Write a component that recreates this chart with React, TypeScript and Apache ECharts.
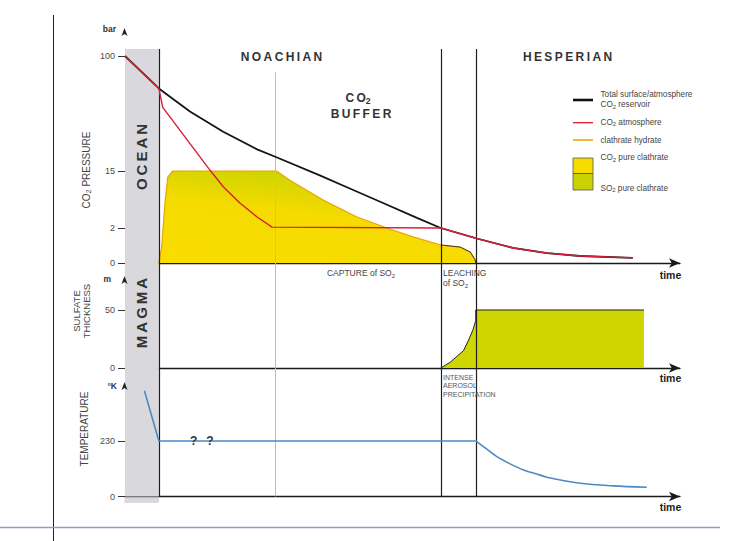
import React, { useEffect, useRef } from "react";
import * as echarts from "echarts";

// ---- time axis (arbitrary schematic units) ----
const TIME_MAX = 100;
const OCEAN_END = 6.1;
const BUFFER_START = 27;
const NOACHIAN_END = 56.9;
const HESPERIAN_START = 63.2;
const BUFFER_LINE_TOP_P = 88;

// ---- schematic (non-linear) CO2 pressure axis ----
const PRESSURE_TICKS = [0, 2, 15, 100];
const PRESSURE_TICK_AXIS = [0, 35, 92, 207];
const PRESSURE_AXIS_MAX = 214;

// ---- total surface/atmosphere CO2 reservoir (bar) ----
const TOTAL_T = [0, 6.1, 11.7, 17.7, 23.8, 27.4, 35.1, 40.5, 46.5, 52.6, 56.9];
const TOTAL_P = [100, 76, 59, 44, 31, 25, 14, 11, 7.7, 4.3, 2];

// ---- CO2 atmosphere (bar) ----
const ATM_T = [0, 6.1, 6.8, 15.3, 17.7, 20.7, 23.8, 26.5, 56.9, 63.4, 69.9, 76, 82, 91.5];
const ATM_P = [100, 76, 62, 15.7, 11.4, 7.7, 4.5, 2.2, 2, 1.4, 0.86, 0.57, 0.4, 0.29];

// ---- clathrate hydrate (bar equivalent) ----
const CLATH_T = [6.1, 6.6, 7.2, 7.7, 8.6, 27.3, 29.7, 35.7, 41.8, 47.7, 51.9, 56.9, 60.4, 62.2, 63.1, 63.2];
const CLATH_P = [0, 0.9, 7.7, 13.6, 15, 15, 12.9, 8.4, 4.5, 1.94, 1.49, 1.03, 0.91, 0.63, 0.17, 0];

// ---- sulfate thickness (m) ----
const SULF_TICKS = [0, 50];
const SULF_MAX = 90.5;
const SULF_T = [56.9, 58.6, 59.8, 61.0, 61.9, 62.7, 63.2, 63.2, 93.5];
const SULF_M = [0, 5, 10, 15, 24, 33, 41, 50, 50];

// ---- temperature (K) ----
const TEMP_TICKS = [0, 230];
const TEMP_MAX = 532;
const TEMP_T = [3.5, 6.1, 62.0, 63.2, 65.2, 67.0, 69.4, 71.8, 74.2, 76.0, 82.0, 88.0, 94.0];
const TEMP_K = [438, 230, 230, 230, 196, 165, 135, 110, 93, 80, 55, 44, 38];

const FONT = "'Liberation Sans', Arial, sans-serif";

function pToAxis(p: number): number {
  const t = PRESSURE_TICKS;
  const a = PRESSURE_TICK_AXIS;
  for (let i = 1; i < t.length; i++) {
    if (p <= t[i] || i === t.length - 1) {
      return a[i - 1] + ((p - t[i - 1]) / (t[i] - t[i - 1])) * (a[i] - a[i - 1]);
    }
  }
  return 0;
}

function pressureLabel(v: number): string {
  let best = 0;
  PRESSURE_TICK_AXIS.forEach((a, i) => {
    if (Math.abs(a - v) < Math.abs(PRESSURE_TICK_AXIS[best] - v)) best = i;
  });
  return String(PRESSURE_TICKS[best]);
}

const spaced = (s: string) => s.split("").join("\u2009");

function subRich(size: number, weight = "normal", fill = "#333") {
  return {
    s: {
      fontSize: Math.round(size * 0.72 * 10) / 10,
      fontFamily: FONT,
      fontWeight: weight,
      fill,
      padding: [Math.round(size * 0.5), 0, 0, 0],
    },
  };
}

function txt(text: string, x: number, y: number, o: any = {}) {
  const size = o.size || 8;
  const weight = o.weight || "normal";
  const fill = o.fill || "#333";
  return {
    type: "text",
    x,
    y,
    rotation: o.rotation || 0,
    z: 10,
    silent: true,
    style: {
      text,
      fill,
      fontSize: size,
      fontFamily: FONT,
      fontWeight: weight,
      align: o.align || "center",
      verticalAlign: "middle",
      rich: subRich(size, weight, fill),
    },
  };
}

function arrow(x: number, y: number) {
  return {
    type: "polygon",
    z: 10,
    silent: true,
    shape: { points: [[x, y], [x - 3, y + 8], [x, y + 6], [x + 3, y + 8]] },
    style: { fill: "#222" },
  };
}

function hline(x1: number, x2: number, y: number, stroke: string, w: number) {
  return { type: "line", z: 10, silent: true, shape: { x1, y1: y, x2, y2: y }, style: { stroke, lineWidth: w } };
}

const BAND = "#d9d9dd";
const DARK_LINE = { color: "#1e1e1e", width: 1.2, type: "solid" };
const GRAY_LINE = { color: "#bdbdbd", width: 1, type: "solid" };

function verticalLines(gridIdx: number) {
  const data: any[] = [{ xAxis: OCEAN_END, lineStyle: DARK_LINE }];
  if (gridIdx === 0) {
    data.push([
      { coord: [BUFFER_START, 0], lineStyle: GRAY_LINE },
      { coord: [BUFFER_START, pToAxis(BUFFER_LINE_TOP_P)] },
    ]);
  } else {
    data.push({ xAxis: BUFFER_START, lineStyle: GRAY_LINE });
  }
  data.push({ xAxis: NOACHIAN_END, lineStyle: DARK_LINE });
  data.push({ xAxis: HESPERIAN_START, lineStyle: DARK_LINE });
  return {
    silent: true,
    symbol: ["none", "none"],
    label: { show: false },
    animation: false,
    data,
  };
}

const bandArea = {
  silent: true,
  itemStyle: { color: BAND },
  data: [[{ xAxis: 0 }, { xAxis: OCEAN_END }]],
};

function buildOption() {
  const zip = (ts: number[], vs: number[], f = (v: number) => v) => ts.map((t, i) => [t, f(vs[i])]);
  const clathData = zip(CLATH_T, CLATH_P, pToAxis);
  const atmData = zip(ATM_T, ATM_P, pToAxis);
  const totalData = zip(TOTAL_T, TOTAL_P, pToAxis).concat(atmData.filter((d) => d[0] > NOACHIAN_END));
  const bumpData = clathData.filter((d) => d[0] >= NOACHIAN_END);
  const tempData = zip(TEMP_T, TEMP_K);
  const tempEarly = tempData.filter((d) => d[0] <= HESPERIAN_START);
  const tempLate = tempData.filter((d) => d[0] >= HESPERIAN_START);

  const xAxisBase = (gridIndex: number) => ({
    type: "value",
    gridIndex,
    min: 0,
    max: TIME_MAX,
    axisLine: {
      show: true,
      onZero: false,
      symbol: ["none", "arrow"],
      symbolSize: [7, 11],
      lineStyle: { color: "#1a1a1a", width: 1.3 },
    },
    axisTick: { show: false },
    axisLabel: { show: false },
    splitLine: { show: false },
  });

  const yAxisBase = (gridIndex: number, max: number, ticks: number[], fmt?: (v: number) => string) => ({
    type: "value",
    gridIndex,
    min: 0,
    max,
    axisLine: { show: true, lineStyle: { color: "#c2c2c6", width: 1 } },
    axisTick: { show: true, length: 7, customValues: ticks, lineStyle: { color: "#333", width: 1 } },
    axisLabel: {
      customValues: ticks,
      formatter: fmt || ((v: number) => String(v)),
      fontSize: 9,
      color: "#4a4a4a",
      fontFamily: FONT,
      margin: 10,
    },
    splitLine: { show: false },
  });

  const gradient = new echarts.graphic.LinearGradient(0.2, 1, 0.6, 0, [
    { offset: 0, color: "#f9dd00" },
    { offset: 0.55, color: "#f5db00" },
    { offset: 1, color: "#c5d200" },
  ]);

  const tempStyle = { color: "#4b8ac2", width: 1.6 };

  const graphics: any[] = [
    // frame lines
    { type: "line", z: 10, silent: true, shape: { x1: 53.5, y1: 15, x2: 53.5, y2: 541 }, style: { stroke: "#222", lineWidth: 1 } },
    hline(0, 720, 527.5, "#8e9bcf", 1.6),
    // band tail
    { type: "rect", z: 0, silent: true, shape: { x: 124.5, y: 497.5, width: 34.5, height: 5.5 }, style: { fill: BAND } },
    // axis arrows and units
    arrow(124.5, 28), arrow(124.5, 276), arrow(124.5, 382),
    txt("bar", 116, 29, { size: 8.5, weight: "bold", align: "right" }),
    txt("m", 111, 279, { size: 8.5, weight: "bold", align: "right" }),
    txt("°K", 117, 386, { size: 8.5, weight: "bold", align: "right" }),
    // x-axis names
    txt("time", 670.5, 275, { size: 10.5, weight: "bold", fill: "#222" }),
    txt("time", 670.5, 378, { size: 10.5, weight: "bold", fill: "#222" }),
    txt("time", 670.5, 507, { size: 10.5, weight: "bold", fill: "#222" }),
    // y-axis titles
    txt("CO{s|2} PRESSURE", 86, 170, { size: 10, rotation: Math.PI / 2, fill: "#444" }),
    txt("SULFATE", 76, 311, { size: 9.5, rotation: Math.PI / 2, fill: "#444" }),
    txt("THICKNESS", 86, 311, { size: 9.5, rotation: Math.PI / 2, fill: "#444" }),
    txt("TEMPERATURE", 84, 429, { size: 10, rotation: Math.PI / 2, fill: "#444" }),
    // band labels
    txt(spaced("OCEAN"), 141.5, 157, { size: 15, weight: "bold", rotation: Math.PI / 2, fill: "#333" }),
    txt(spaced("MAGMA"), 141.5, 313, { size: 15, weight: "bold", rotation: Math.PI / 2, fill: "#333" }),
    // period titles
    txt(spaced("NOACHIAN"), 281.5, 57, { size: 12, weight: "bold", fill: "#333" }),
    txt(spaced("HESPERIAN"), 567.5, 57, { size: 12, weight: "bold", fill: "#333" }),
    txt(spaced("CO") + "{s|2}", 358, 98, { size: 12, weight: "bold", fill: "#333" }),
    txt(spaced("BUFFER"), 361, 114, { size: 12, weight: "bold", fill: "#333" }),
    // annotations
    txt("CAPTURE of SO{s|2}", 361, 273, { size: 8.5, fill: "#444" }),
    txt("LEACHING", 443, 273, { size: 8.5, fill: "#444", align: "left" }),
    txt("of SO{s|2}", 443, 283, { size: 8.5, fill: "#444", align: "left" }),
    txt("INTENSE", 443, 377, { size: 7, fill: "#555", align: "left" }),
    txt("AEROSOL", 443, 385.5, { size: 7, fill: "#555", align: "left" }),
    txt("PRECIPITATION", 443, 394, { size: 7, fill: "#555", align: "left" }),
    txt("?", 193.7, 441, { size: 12, weight: "bold", fill: "#333" }),
    txt("?", 210, 441, { size: 12, weight: "bold", fill: "#333" }),
    // legend
    hline(573, 593, 100, "#111", 2.6),
    hline(573, 593, 122.7, "#e8192c", 1.3),
    hline(573, 593, 140, "#f0a800", 1.6),
    { type: "rect", z: 10, silent: true, shape: { x: 573, y: 158, width: 20, height: 15.5 }, style: { fill: "#f8dc00", stroke: "#555", lineWidth: 0.8 } },
    { type: "rect", z: 10, silent: true, shape: { x: 573, y: 173.5, width: 20, height: 16.5 }, style: { fill: "#c9d200", stroke: "#555", lineWidth: 0.8 } },
    txt("Total surface/atmosphere", 600.5, 94, { size: 8.2, fill: "#444", align: "left" }),
    txt("CO{s|2} reservoir", 600.5, 104.5, { size: 8.2, fill: "#444", align: "left" }),
    txt("CO{s|2} atmosphere", 600.5, 122.3, { size: 8.2, fill: "#444", align: "left" }),
    txt("clathrate hydrate", 600.5, 140, { size: 8.2, fill: "#444", align: "left" }),
    txt("CO{s|2} pure clathrate", 600.5, 157.5, { size: 8.2, fill: "#444", align: "left" }),
    txt("SO{s|2} pure clathrate", 600.5, 188, { size: 8.2, fill: "#444", align: "left" }),
  ];

  return {
    animation: false,
    backgroundColor: "#fff",
    grid: [
      { left: 125, right: 59, top: 49, height: 214 },
      { left: 125, right: 59, top: 263, height: 105 },
      { left: 125, right: 59, top: 368, height: 128.5 },
    ],
    xAxis: [xAxisBase(0), xAxisBase(1), xAxisBase(2)],
    yAxis: [
      yAxisBase(0, PRESSURE_AXIS_MAX, PRESSURE_TICKS.map(pToAxis), pressureLabel),
      yAxisBase(1, SULF_MAX, SULF_TICKS),
      yAxisBase(2, TEMP_MAX, TEMP_TICKS),
    ],
    series: [
      {
        name: "clathrate hydrate",
        type: "line",
        xAxisIndex: 0,
        yAxisIndex: 0,
        data: clathData,
        symbol: "none",
        z: 2,
        lineStyle: { color: "#eea200", width: 1.2 },
        areaStyle: { color: gradient, opacity: 1 },
        markArea: bandArea,
        markLine: verticalLines(0),
      },
      {
        name: "SO2 pure clathrate edge",
        type: "line",
        xAxisIndex: 0,
        yAxisIndex: 0,
        data: bumpData,
        symbol: "none",
        z: 3,
        lineStyle: { color: "#333", width: 0.9 },
      },
      {
        name: "Total surface/atmosphere CO2 reservoir",
        type: "line",
        xAxisIndex: 0,
        yAxisIndex: 0,
        data: totalData,
        symbol: "none",
        z: 6,
        lineStyle: { color: "#151515", width: 1.8 },
      },
      {
        name: "CO2 atmosphere",
        type: "line",
        xAxisIndex: 0,
        yAxisIndex: 0,
        data: atmData,
        symbol: "none",
        z: 7,
        lineStyle: { color: "#d61f3a", width: 1.4 },
      },
      {
        name: "sulfate thickness",
        type: "line",
        xAxisIndex: 1,
        yAxisIndex: 1,
        data: zip(SULF_T, SULF_M),
        symbol: "none",
        z: 2,
        lineStyle: { color: "#222", width: 1 },
        areaStyle: { color: "#cfd500", opacity: 1 },
        markArea: bandArea,
        markLine: verticalLines(1),
      },
      {
        name: "temperature",
        type: "line",
        xAxisIndex: 2,
        yAxisIndex: 2,
        data: tempEarly,
        symbol: "none",
        z: 6,
        lineStyle: tempStyle,
        markArea: bandArea,
        markLine: verticalLines(2),
      },
      {
        name: "temperature (cooling)",
        type: "line",
        xAxisIndex: 2,
        yAxisIndex: 2,
        data: tempLate,
        symbol: "none",
        smooth: 0.3,
        z: 6,
        lineStyle: tempStyle,
      },
    ],
    graphic: graphics,
  };
}

export default function App() {
  const ref = useRef<HTMLDivElement>(null);
  useEffect(() => {
    document.body.style.margin = "0";
    const chart = echarts.init(ref.current as HTMLDivElement, null, { renderer: "svg" });
    chart.setOption(buildOption() as any);
    return () => chart.dispose();
  }, []);
  return <div ref={ref} style={{ width: 739, height: 541, background: "#fff" }} />;
}
